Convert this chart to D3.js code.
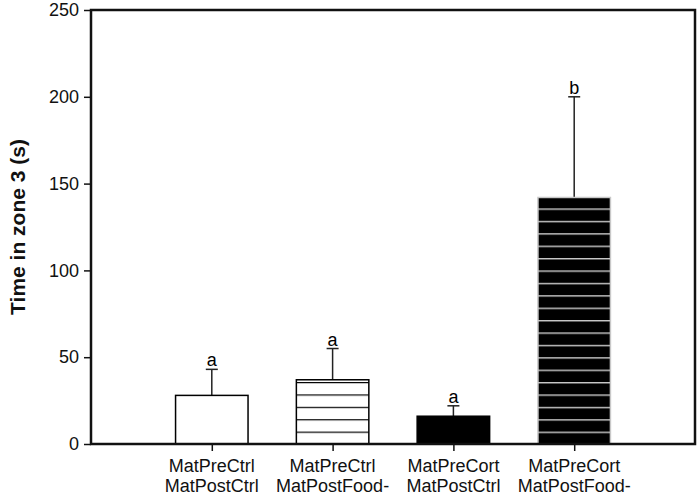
<!DOCTYPE html>
<html>
<head>
<meta charset="utf-8">
<script src="https://cdn.jsdelivr.net/npm/d3@7"></script>
<style>
  body { margin: 0; background: #fff; }
  text { font-family: "Liberation Sans", Arial, sans-serif; }
</style>
</head>
<body>
<div id="chart"></div>
<script>
// data
const groupsTop = ['MatPreCtrl', 'MatPreCtrl', 'MatPreCort', 'MatPreCort'];
const groupsBottom = ['MatPostCtrl', 'MatPostFood-', 'MatPostCtrl', 'MatPostFood-'];
const means = [28, 37, 16, 142];
const errors = [15, 18, 6, 58];
const letters = ['a', 'a', 'a', 'b'];
const yTicks = [0, 50, 100, 150, 200, 250];

const width = 700, height = 495;
const margin = { top: 10, right: 5, bottom: 51, left: 91 };

const svg = d3.select('#chart')
    .append('svg')
    .attr('width', width)
    .attr('height', height)
    .style('display', 'block');

const x = d3.scaleLinear()
    .domain([0, groupsTop.length + 1])
    .range([margin.left, width - margin.right]);

const y = d3.scaleLinear()
    .domain([0, 250])
    .range([height - margin.bottom, margin.top]);

const barW = (x(1) - x(0)) * 0.6;
const stripeGap = 12.4;

// stripe patterns, anchored on the baseline
const defs = svg.append('defs');
function stripes(id, bg, fg, sw) {
    const p = defs.append('pattern')
        .attr('id', id)
        .attr('patternUnits', 'userSpaceOnUse')
        .attr('x', 0)
        .attr('y', y(0))
        .attr('width', width)
        .attr('height', stripeGap);
    p.append('rect').attr('width', width).attr('height', stripeGap).attr('fill', bg);
    p.append('line')
        .attr('x1', 0).attr('x2', width)
        .attr('y1', 0).attr('y2', 0)
        .attr('stroke', fg).attr('stroke-width', sw * 2);
}
stripes('whiteStripes', '#fff', '#000', 1.3);
stripes('blackStripes', '#000', '#c8c8c8', 1.4);

const fills = ['#fff', 'url(#whiteStripes)', '#000', 'url(#blackStripes)'];
const strokes = ['#000', '#000', '#000', '#c8c8c8'];

const data = means.map((m, i) => ({ i, m, e: errors[i], letter: letters[i] }));

// error bars (upper only)
const err = svg.append('g').selectAll('g')
    .data(data)
    .join('g');
err.append('line')
    .attr('x1', d => x(d.i + 1)).attr('x2', d => x(d.i + 1))
    .attr('y1', d => y(d.m)).attr('y2', d => y(d.m + d.e))
    .attr('stroke', '#222').attr('stroke-width', 1.5);
err.append('line')
    .attr('x1', d => x(d.i + 1) - 6).attr('x2', d => x(d.i + 1) + 6)
    .attr('y1', d => y(d.m + d.e)).attr('y2', d => y(d.m + d.e))
    .attr('stroke', '#222').attr('stroke-width', 1.5);
err.append('text')
    .attr('x', d => x(d.i + 1))
    .attr('y', d => y(d.m + d.e) - 3)
    .attr('text-anchor', 'middle')
    .attr('font-size', '18px')
    .attr('fill', '#000')
    .text(d => d.letter);

// bars
svg.append('g').selectAll('rect')
    .data(data)
    .join('rect')
    .attr('x', d => x(d.i + 1) - barW / 2)
    .attr('y', d => y(d.m))
    .attr('width', barW)
    .attr('height', d => y(0) - y(d.m))
    .attr('fill', d => fills[d.i])
    .attr('stroke', d => strokes[d.i])
    .attr('stroke-width', 1.5);

// frame
svg.append('rect')
    .attr('x', x.range()[0])
    .attr('y', y.range()[1])
    .attr('width', x.range()[1] - x.range()[0])
    .attr('height', y.range()[0] - y.range()[1])
    .attr('fill', 'none')
    .attr('stroke', '#111')
    .attr('stroke-width', 2.5);

// y axis
const yAxis = svg.append('g')
    .attr('transform', `translate(${margin.left},0)`)
    .call(d3.axisLeft(y).tickValues(yTicks).tickSize(7).tickPadding(5));
yAxis.select('.domain').remove();
yAxis.selectAll('.tick line').attr('stroke', '#111').attr('stroke-width', 1.5);
yAxis.selectAll('.tick text')
    .attr('font-size', '18px')
    .attr('font-family', '"Liberation Sans", Arial, sans-serif')
    .attr('fill', '#111');

// x axis ticks
const xAxis = svg.append('g')
    .attr('transform', `translate(0,${y(0)})`)
    .call(d3.axisBottom(x).tickValues(d3.range(1, groupsTop.length + 1)).tickSize(7).tickFormat(''));
xAxis.select('.domain').remove();
xAxis.selectAll('.tick line').attr('stroke', '#111').attr('stroke-width', 1.5);

// two-line category labels
const labels = svg.append('g').selectAll('text')
    .data(data)
    .join('text')
    .attr('text-anchor', 'middle')
    .attr('font-size', '18px')
    .attr('fill', '#111')
    .attr('transform', d => `translate(${x(d.i + 1)},0)`);
labels.append('tspan').attr('x', 0).attr('y', 472).text(d => groupsTop[d.i]);
labels.append('tspan').attr('x', 0).attr('y', 492).text(d => groupsBottom[d.i]);

// y title
svg.append('text')
    .attr('transform', `translate(25,${(y(0) + y(250)) / 2}) rotate(-90)`)
    .attr('text-anchor', 'middle')
    .attr('font-size', '21px')
    .attr('font-weight', 'bold')
    .attr('fill', '#111')
    .text('Time in zone 3 (s)');
</script>
</body>
</html>
